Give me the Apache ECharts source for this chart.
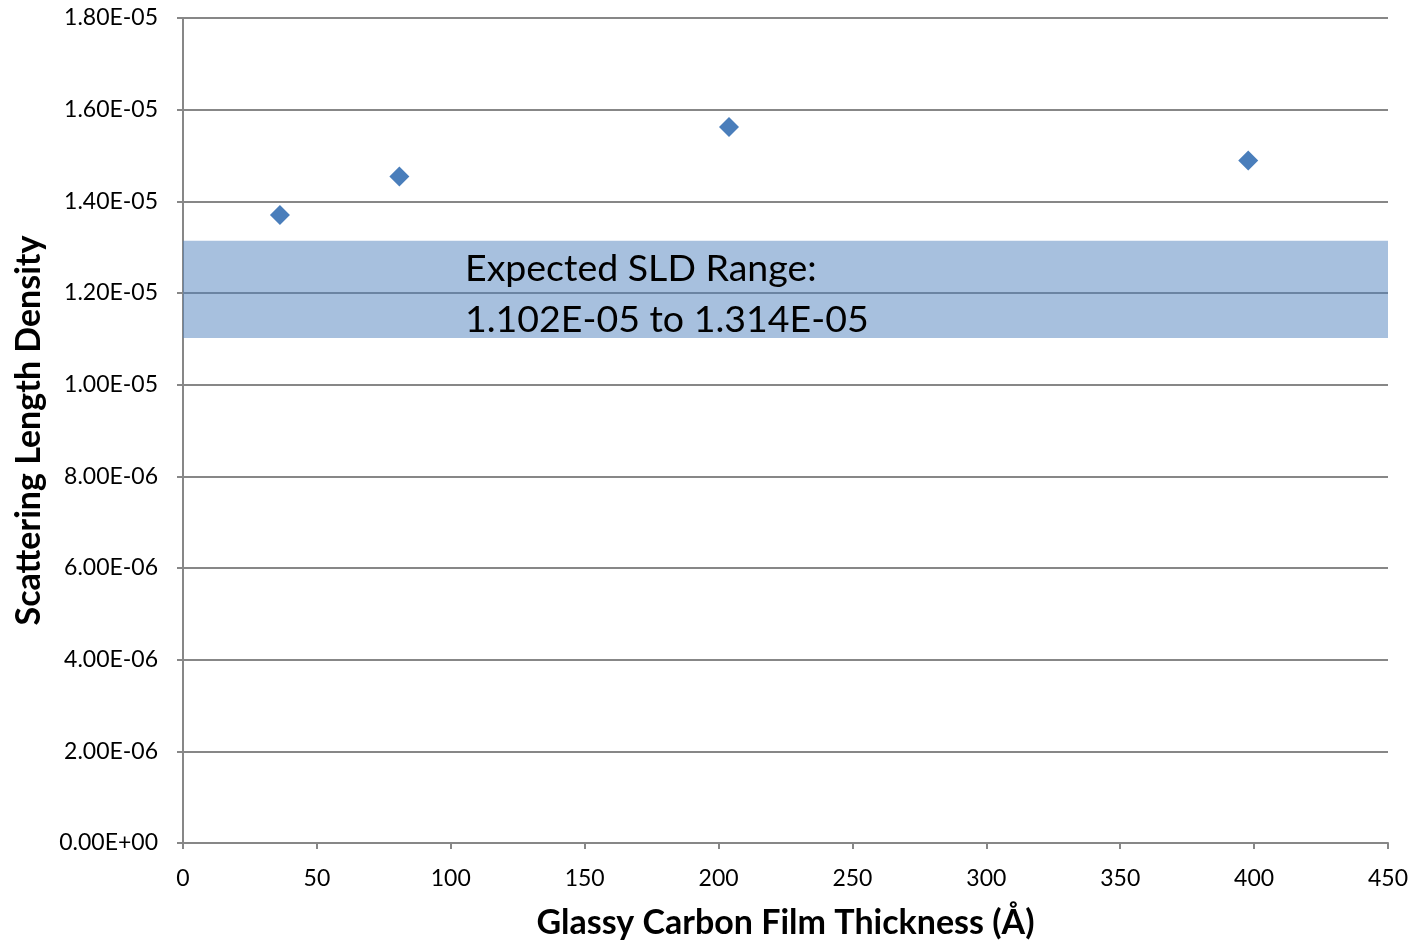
<!DOCTYPE html>
<html>
<head>
<meta charset="utf-8">
<script src="https://cdn.jsdelivr.net/npm/echarts@6/dist/echarts.min.js"></script>
<style>
  html, body { margin: 0; padding: 0; background: #ffffff; }
  #chart { width: 1417px; height: 946px; }
</style>
</head>
<body>
<div id="chart"></div>
<script>
// Measured film thickness (Å) and fitted scattering length density
const thickness = [36.2, 80.8, 203.9, 397.8];
const sld = [1.370e-5, 1.454e-5, 1.562e-5, 1.489e-5];

// Expected SLD band
const expectedLow = 1.102e-5;
const expectedHigh = 1.314e-5;
const bandLines = ['Expected SLD Range:', '1.102E-05 to 1.314E-05'];

const xTitle = 'Glassy Carbon Film Thickness (Å)';
const yTitle = 'Scattering Length Density';

const FONT = 'Lato';
const GRID_GRAY = '#878787';

const points = thickness.map((t, i) => [t, sld[i]]);

const chart = echarts.init(document.getElementById('chart'), null, { renderer: 'canvas' });

chart.setOption({
  backgroundColor: '#ffffff',
  animation: false,
  textStyle: { fontFamily: FONT },
  grid: { left: 183, right: 29, top: 18, bottom: 103, containLabel: false },
  xAxis: {
    type: 'value',
    min: 0,
    max: 450,
    interval: 50,
    name: xTitle,
    nameLocation: 'middle',
    nameGap: 63,
    nameTextStyle: { fontFamily: FONT, fontSize: 34, fontWeight: 'bold', color: '#000' },
    axisLine: { show: true, lineStyle: { color: GRID_GRAY, width: 2 } },
    axisTick: { show: true, length: 6, lineStyle: { color: GRID_GRAY, width: 2 } },
    axisLabel: { fontFamily: FONT, fontSize: 23, color: '#000', margin: 24 },
    splitLine: { show: false }
  },
  yAxis: {
    type: 'value',
    min: 0,
    max: 1.8e-5,
    interval: 2e-6,
    name: yTitle,
    nameLocation: 'middle',
    nameGap: 137,
    nameTextStyle: { fontFamily: FONT, fontSize: 34, fontWeight: 'bold', color: '#000' },
    axisLine: { show: true, lineStyle: { color: GRID_GRAY, width: 2 } },
    axisTick: { show: true, length: 6, lineStyle: { color: GRID_GRAY, width: 2 } },
    axisLabel: {
      fontFamily: FONT, fontSize: 23, color: '#000', margin: 25,
      formatter: v => {
        const s = v.toExponential(2).toUpperCase();
        const m = s.match(/^([\d.]+)E([+-])(\d+)$/);
        return m[1] + 'E' + m[2] + m[3].padStart(2, '0');
      }
    },
    splitLine: { show: true, lineStyle: { color: GRID_GRAY, width: 2 } }
  },
  series: [{
    type: 'scatter',
    data: points,
    symbol: 'diamond',
    symbolSize: 20,
    itemStyle: { color: '#4a7ebb', opacity: 1 },
    z: 5,
    markArea: {
      silent: true,
      itemStyle: { color: 'rgba(79,129,189,0.5)' },
      label: {
        show: true,
        position: ['23.4%', '3%'],
        align: 'left',
        verticalAlign: 'top',
        fontFamily: FONT,
        fontSize: 37.5,
        lineHeight: 51,
        color: '#000',
        formatter: bandLines.join('\n')
      },
      data: [[
        { xAxis: 0, yAxis: expectedLow },
        { xAxis: 450, yAxis: expectedHigh }
      ]]
    }
  }]
});
</script>
</body>
</html>
